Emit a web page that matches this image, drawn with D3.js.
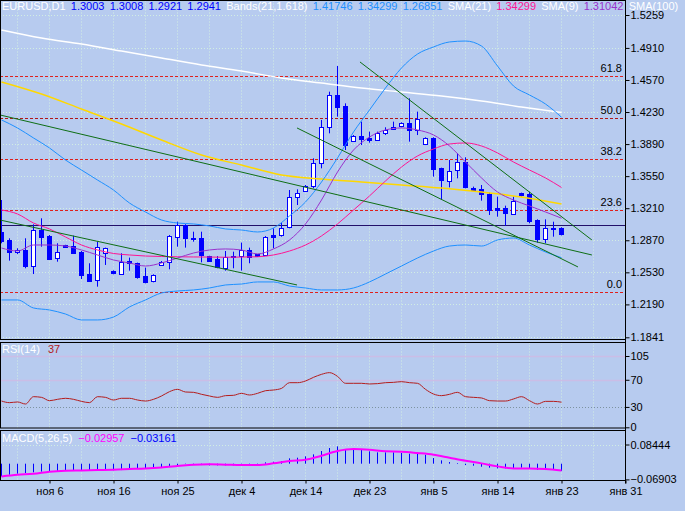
<!DOCTYPE html>
<html>
<head>
<meta charset="utf-8">
<script src="https://cdn.jsdelivr.net/npm/d3@7"></script>
<style>
  body { margin: 0; background: #b7cbef; }
  svg { display: block; font-family: "Liberation Sans", Arial, sans-serif; font-size: 11px; }
</style>
</head>
<body>
<div id="container"></div>
<script>
// time axis
var tickLabels = ["ноя 6", "ноя 16", "ноя 25", "дек 4", "дек 14", "дек 23", "янв 5", "янв 14", "янв 23", "янв 31"];
var tickBars = [6, 14, 22, 30, 38, 46, 54, 62, 70, 78];

// price / indicator scales
var priceTicks = [1.5259, 1.4910, 1.4570, 1.4230, 1.3890, 1.3550, 1.3210, 1.2870, 1.2530, 1.2190, 1.1841];
var rsiTicks = [105, 70, 30, 0];
var macdTicks = [0.08444, -0.06903];

// EURUSD D1 candles
var open = [1.2961, 1.2873, 1.2742, 1.2767, 1.2601, 1.2979, 1.2915, 1.2679, 1.2816, 1.2813,
  1.2749, 1.2512, 1.2449, 1.2732, 1.2544, 1.2512, 1.2650, 1.2626, 1.2491, 1.2438,
  1.2604, 1.2640, 1.2908, 1.3032, 1.2898, 1.2898, 1.2703, 1.2668, 1.2583, 1.2696,
  1.2703, 1.2767, 1.2721, 1.2714, 1.2926, 1.2926, 1.3004, 1.3325, 1.3396, 1.3439,
  1.3686, 1.4068, 1.4411, 1.4294, 1.3923, 1.3976, 1.3958, 1.3933, 1.4004, 1.4050,
  1.4075, 1.4110, 1.4040, 1.3891, 1.3958, 1.3633, 1.3502, 1.3608, 1.3697, 1.3428,
  1.3410, 1.3361, 1.3216, 1.3209, 1.3156, 1.3368, 1.3361, 1.3085, 1.2880, 1.2997, 1.3003];
var high = [1.3297, 1.2891, 1.2785, 1.2891, 1.3039, 1.3103, 1.2926, 1.2838, 1.2822, 1.2919,
  1.2756, 1.2626, 1.2855, 1.2792, 1.2551, 1.2732, 1.2686, 1.2633, 1.2580, 1.2509,
  1.2650, 1.2926, 1.3067, 1.3040, 1.2961, 1.2961, 1.2706, 1.2703, 1.2756, 1.2749,
  1.2845, 1.2792, 1.2724, 1.2915, 1.2997, 1.3057, 1.3403, 1.3410, 1.3456, 1.3739,
  1.4146, 1.4446, 1.4718, 1.4322, 1.3986, 1.4128, 1.4022, 1.4022, 1.4068, 1.4128,
  1.4121, 1.4375, 1.4234, 1.3962, 1.3962, 1.3640, 1.3721, 1.3792, 1.3750, 1.3439,
  1.3456, 1.3375, 1.3333, 1.3237, 1.3333, 1.3375, 1.3385, 1.3092, 1.3092, 1.3067, 1.3008];
var low = [1.2838, 1.2654, 1.2724, 1.2573, 1.2512, 1.2802, 1.2661, 1.2643, 1.2790, 1.2732,
  1.2459, 1.2438, 1.2378, 1.2608, 1.2509, 1.2502, 1.2548, 1.2463, 1.2413, 1.2424,
  1.2597, 1.2562, 1.2802, 1.2792, 1.2855, 1.2636, 1.2650, 1.2573, 1.2548, 1.2573,
  1.2548, 1.2626, 1.2696, 1.2707, 1.2785, 1.2908, 1.2997, 1.3244, 1.3385, 1.3421,
  1.3633, 1.4004, 1.4181, 1.3827, 1.3916, 1.3880, 1.3905, 1.3923, 1.3986, 1.4040,
  1.4068, 1.3916, 1.3986, 1.3880, 1.3545, 1.3304, 1.3431, 1.3527, 1.3421, 1.3403,
  1.3290, 1.3138, 1.3120, 1.3025, 1.3138, 1.3333, 1.3050, 1.2845, 1.2838, 1.2908, 1.2921];
var close = [1.2866, 1.2749, 1.2767, 1.2601, 1.2979, 1.2908, 1.2671, 1.2742, 1.2795, 1.2742,
  1.2502, 1.2442, 1.2795, 1.2785, 1.2519, 1.2643, 1.2626, 1.2477, 1.2431, 1.2502,
  1.2640, 1.2915, 1.3032, 1.2891, 1.2884, 1.2714, 1.2654, 1.2583, 1.2696, 1.2703,
  1.2767, 1.2689, 1.2703, 1.2908, 1.2908, 1.3004, 1.3325, 1.3368, 1.3446, 1.3686,
  1.4068, 1.4411, 1.4287, 1.3880, 1.3976, 1.3940, 1.3933, 1.4004, 1.4040, 1.4075,
  1.4110, 1.4032, 1.4153, 1.3951, 1.3633, 1.3502, 1.3608, 1.3697, 1.3428, 1.3410,
  1.3361, 1.3191, 1.3191, 1.3156, 1.3290, 1.3343, 1.3078, 1.2880, 1.2997, 1.2990, 1.2941];

// indicator lines read every second bar
var evenBars = [0, 2, 4, 6, 8, 10, 12, 14, 16, 18, 20, 22, 24, 26, 28, 30, 32, 34,
  36, 38, 40, 42, 44, 46, 48, 50, 52, 54, 56, 58, 60, 62, 64, 66, 68, 70];
var bbUpper = [1.4146, 1.4061, 1.3955, 1.3849, 1.3721, 1.3615, 1.3509, 1.3403, 1.3265, 1.3170,
  1.3085, 1.3053, 1.3043, 1.3022, 1.2990, 1.2979, 1.2958, 1.3000, 1.3128, 1.3276,
  1.3488, 1.3743, 1.4018, 1.4252, 1.4485, 1.4697, 1.4845, 1.4920, 1.4973, 1.4983,
  1.4930, 1.4718, 1.4506, 1.4411, 1.4315, 1.41746];
var bbMiddle = [1.3191, 1.3149, 1.3053, 1.2990, 1.2905, 1.2820, 1.2767, 1.2730, 1.2714, 1.2703,
  1.2698, 1.2695, 1.2693, 1.2692, 1.2690, 1.2692, 1.2695, 1.2714, 1.2756, 1.2820,
  1.2916, 1.3043, 1.3191, 1.3340, 1.3499, 1.3647, 1.3764, 1.3838, 1.3891, 1.3902,
  1.3870, 1.3796, 1.3700, 1.3615, 1.3531, 1.34299];
var bbLower = [1.2237, 1.2237, 1.2152, 1.2131, 1.2088, 1.2025, 1.2025, 1.2056, 1.2163, 1.2237,
  1.2311, 1.2332, 1.2343, 1.2364, 1.2396, 1.2406, 1.2428, 1.2428, 1.2385, 1.2364,
  1.2343, 1.2343, 1.2364, 1.2428, 1.2512, 1.2597, 1.2682, 1.2756, 1.2809, 1.2820,
  1.2809, 1.2873, 1.2894, 1.2820, 1.2746, 1.26851];
var sma9 = [1.2788, 1.2756, 1.2820, 1.2820, 1.2809, 1.2767, 1.2714, 1.2661, 1.2629, 1.2597,
  1.2629, 1.2682, 1.2735, 1.2767, 1.2778, 1.2767, 1.2725, 1.2778, 1.2873, 1.3043,
  1.3297, 1.3594, 1.3827, 1.3965, 1.4040, 1.4061, 1.4040, 1.3987, 1.3870, 1.3700,
  1.3531, 1.3382, 1.3297, 1.3234, 1.3170, 1.31042];
var macdSignal = [-0.0558, -0.0485, -0.0441, -0.0352, -0.0308, -0.0294, -0.0279, -0.0264, -0.0235, -0.0206,
  -0.0162, -0.0103, -0.0044, -0.0029, -0.0044, -0.0059, -0.0059, 0.0015, 0.0117, 0.0176,
  0.0352, 0.0558, 0.0646, 0.0617, 0.0543, 0.0529, 0.0470, 0.0396, 0.0264, 0.0132,
  0.0015, -0.0117, -0.0206, -0.0206, -0.0235, -0.02957];

// slow lines read every fifth bar
var fifthBars = [0, 5, 10, 15, 20, 25, 30, 35, 40, 45, 50, 55, 60, 65, 70];
var sma100 = [1.5100, 1.5015, 1.4951, 1.4877, 1.4803, 1.4729, 1.4665, 1.4591, 1.4538, 1.4485,
  1.4442, 1.4400, 1.4347, 1.4283, 1.4225];
var yellowMa = [1.4549, 1.4421, 1.4262, 1.4103, 1.3933, 1.3774, 1.3668, 1.3562, 1.3520, 1.3488,
  1.3456, 1.3424, 1.3382, 1.3329, 1.3255];

// oscillators, one value per bar
var rsi = [38.7, 36.3, 37.3, 34.3, 45.1, 44.1, 39.2, 41.2, 42.7, 41.2,
  38.2, 36.3, 45.1, 44.1, 40.2, 42.7, 42.7, 40.2, 38.7, 41.2,
  46.1, 52.5, 55.9, 52.0, 51.5, 48.6, 46.1, 44.1, 46.6, 47.1,
  50.0, 47.6, 50.0, 53.9, 54.9, 57.3, 65.7, 65.7, 68.2, 73.6,
  78.0, 80.5, 75.0, 64.8, 64.8, 64.8, 63.8, 64.3, 65.7, 66.2,
  67.2, 65.7, 64.8, 55.9, 49.0, 46.6, 48.6, 51.5, 45.1, 44.1,
  43.2, 39.2, 38.7, 38.7, 41.7, 45.1, 39.2, 34.3, 38.2, 38.2, 37.0];
var macdHist = [-0.0560, -0.0485, -0.0440, -0.0410, -0.0380, -0.0350, -0.0350, -0.0340, -0.0310, -0.0310,
  -0.0320, -0.0320, -0.0294, -0.0280, -0.0290, -0.0280, -0.0235, -0.0220, -0.0220, -0.0210,
  -0.0190, -0.0130, -0.0059, -0.0015, -0.0044, -0.0059, -0.0073, -0.0073, -0.0073, -0.0073,
  -0.0059, -0.0073, -0.0059, 0.0059, 0.0088, 0.0117, 0.0235, 0.0264, 0.0323, 0.0411,
  0.0558, 0.0690, 0.0763, 0.0617, 0.0646, 0.0617, 0.0543, 0.0499, 0.0499, 0.0499,
  0.0470, 0.0440, 0.0426, 0.0396, 0.0250, 0.0147, 0.0073, 0.0029, -0.0059, -0.0088,
  -0.0132, -0.0176, -0.0206, -0.0206, -0.0191, -0.0176, -0.0206, -0.0264, -0.0279, -0.0264, -0.03161];

// drawn objects: trend lines [bar1, price1, bar2, price2], fibo, horizontal line
var trendLines = [
  [-0.2, 1.4199, 73.8, 1.2714],
  [-0.2, 1.3085, 36.94, 1.2396],
  [36.94, 1.4061, 72.06, 1.2587],
  [44.81, 1.4761, 73.8, 1.2873]
];
var fibLevels = [0, 23.6, 38.2, 50, 61.8];
var fibLow = 1.2318, fibHigh = 1.6025;
var hLinePrice = 1.3029;

var width = 685, height = 511, plotRight = 625.5;
var main = {top: 0.5, bottom: 339.5}, rsiP = {top: 342.5, bottom: 428}, macdP = {top: 430.5, bottom: 480.5};

var svg = d3.select("#container")
  .append("svg")
    .attr("width", width)
    .attr("height", height);

svg.append("rect").attr("width", width).attr("height", height).attr("fill", "#b7cbef");

var x = d3.scaleLinear().domain([0, 78]).range([1.5, 625.5]);
var y = d3.scaleLinear().domain([1.1841, 1.5259]).range([337.3, 15]);
var yR = d3.scaleLinear().domain([0, 105]).range([427.3, 356]);
var yM = d3.scaleLinear().domain([-0.06903, 0.08444]).range([479.4, 444.5]);

var defs = svg.append("defs");
function clipFor(id, p) {
  defs.append("clipPath").attr("id", id)
    .append("rect").attr("x", 0.5).attr("y", p.top).attr("width", plotRight - 0.5).attr("height", p.bottom - p.top);
  return svg.append("g").attr("clip-path", "url(#" + id + ")");
}
var gMain = clipFor("cMain", main), gRsi = clipFor("cRsi", rsiP), gMacd = clipFor("cMacd", macdP);

// vertical grid every 4 bars
var gridBars = d3.range(2, 79, 4);
[[gMain, main], [gRsi, rsiP], [gMacd, macdP]].forEach(function (pp) {
  pp[0].selectAll(".vg").data(gridBars).enter().append("line")
    .attr("x1", function (d) { return x(d); }).attr("x2", function (d) { return x(d); })
    .attr("y1", pp[1].top).attr("y2", pp[1].bottom)
    .attr("stroke", "#d2eee2").attr("stroke-dasharray", "1,2");
});
gMain.selectAll(".hg").data(priceTicks).enter().append("line")
  .attr("x1", 0).attr("x2", plotRight)
  .attr("y1", function (d) { return Math.round(y(d)) + 0.5; }).attr("y2", function (d) { return Math.round(y(d)) + 0.5; })
  .attr("stroke", "#d2eee2").attr("stroke-dasharray", "1,2");

// fibonacci levels
var fibPrice = function (l) { return fibLow + (fibHigh - fibLow) * l / 100; };
gMain.selectAll(".fib").data(fibLevels).enter().append("line")
  .attr("x1", 0).attr("x2", plotRight)
  .attr("y1", function (d) { return Math.round(y(fibPrice(d))) + 0.5; })
  .attr("y2", function (d) { return Math.round(y(fibPrice(d))) + 0.5; })
  .attr("stroke", function (d) { return d === 50 ? "#b01818" : "#e0201c"; })
  .attr("stroke-dasharray", "3,2");
gMain.selectAll(".fibt").data(fibLevels).enter().append("text")
  .attr("x", 622).attr("y", function (d) { return y(fibPrice(d)) - 4; })
  .attr("text-anchor", "end").attr("fill", "#000")
  .text(function (d) { return d.toFixed(1); });

// horizontal line
gMain.append("line").attr("x1", 0).attr("x2", plotRight)
  .attr("y1", Math.round(y(hLinePrice)) + 0.5).attr("y2", Math.round(y(hLinePrice)) + 0.5)
  .attr("stroke", "#22106a");

// candles
var bars = d3.range(open.length);
gMain.selectAll(".wick").data(bars).enter().append("line")
  .attr("x1", function (i) { return x(i); }).attr("x2", function (i) { return x(i); })
  .attr("y1", function (i) { return y(high[i]); }).attr("y2", function (i) { return y(low[i]); })
  .attr("stroke", "#0000ff");
gMain.selectAll(".body").data(bars).enter().append("rect")
  .attr("x", function (i) { return x(i) - 2; })
  .attr("y", function (i) { return Math.round(y(Math.max(open[i], close[i]))) + 0.5; })
  .attr("width", 4)
  .attr("height", function (i) { return Math.max(1, Math.round(Math.abs(y(open[i]) - y(close[i])))); })
  .attr("fill", function (i) { return close[i] >= open[i] ? "#ffffff" : "#0000ff"; })
  .attr("stroke", "#0000ff");

// indicator lines
function drawLine(g, idx, vals, ys, color, w) {
  var line = d3.line()
    .x(function (d, i) { return x(idx[i]); })
    .y(function (d) { return ys(d); })
    .curve(d3.curveMonotoneX);
  g.append("path").datum(vals).attr("d", line)
    .attr("fill", "none").attr("stroke", color).attr("stroke-width", w);
}
drawLine(gMain, fifthBars, sma100, y, "#ffffff", 1.5);
drawLine(gMain, fifthBars, yellowMa, y, "#ffd800", 1.5);
drawLine(gMain, evenBars, bbUpper, y, "#1e90ff", 1);
drawLine(gMain, evenBars, bbLower, y, "#1e90ff", 1);
drawLine(gMain, evenBars, bbMiddle, y, "#ff1493", 1);
drawLine(gMain, evenBars, sma9, y, "#9932cc", 1);

gMain.selectAll(".trend").data(trendLines).enter().append("line")
  .attr("x1", function (d) { return x(d[0]); }).attr("y1", function (d) { return y(d[1]); })
  .attr("x2", function (d) { return x(d[2]); }).attr("y2", function (d) { return y(d[3]); })
  .attr("stroke", "#0e6e14");

// RSI
[105, 70].forEach(function (v) {
  gRsi.append("line").attr("x1", 0).attr("x2", plotRight)
    .attr("y1", Math.round(yR(v)) + 0.5).attr("y2", Math.round(yR(v)) + 0.5)
    .attr("stroke", "#cbbde6").attr("stroke-width", 1.5);
});
gRsi.append("line").attr("x1", 0).attr("x2", plotRight)
  .attr("y1", Math.round(yR(30)) + 0.5).attr("y2", Math.round(yR(30)) + 0.5)
  .attr("stroke", "#7d93a0").attr("stroke-dasharray", "1,2");
drawLine(gRsi, bars, rsi, yR, "#b41c1c", 1);

// MACD
gMacd.append("line").attr("x1", 0).attr("x2", plotRight)
  .attr("y1", Math.round(yM(macdTicks[0])) + 0.5).attr("y2", Math.round(yM(macdTicks[0])) + 0.5)
  .attr("stroke", "#d2eee2").attr("stroke-dasharray", "1,2");
gMacd.selectAll(".hist").data(bars).enter().append("line")
  .attr("x1", function (i) { return x(i); }).attr("x2", function (i) { return x(i); })
  .attr("y1", yM(0)).attr("y2", function (i) { return yM(macdHist[i]); })
  .attr("stroke", "#0000ff");
drawLine(gMacd, evenBars, macdSignal, yM, "#ff00ff", 2);

// panel borders
[main, rsiP, macdP].forEach(function (p) {
  svg.append("rect").attr("x", 0.5).attr("y", p.top).attr("width", plotRight - 0.5).attr("height", p.bottom - p.top)
    .attr("fill", "none").attr("stroke", "#000");
});

// axes
function styleAxis(g) {
  g.select(".domain").remove();
  g.selectAll("line").attr("stroke", "#000");
  g.selectAll("text").attr("fill", "#000").attr("font-size", 11).attr("font-family", "Liberation Sans, Arial, sans-serif");
}
svg.append("g").attr("transform", "translate(" + plotRight + ",0)")
  .call(d3.axisRight(y).tickValues(priceTicks).tickFormat(d3.format(".4f")).tickSize(4).tickPadding(1))
  .call(styleAxis);
svg.append("g").attr("transform", "translate(" + plotRight + ",0)")
  .call(d3.axisRight(yR).tickValues(rsiTicks).tickSize(4).tickPadding(1))
  .call(styleAxis);
svg.append("g").attr("transform", "translate(" + plotRight + ",0)")
  .call(d3.axisRight(yM).tickValues(macdTicks).tickFormat(d3.format(".5f")).tickSize(4).tickPadding(1))
  .call(styleAxis);
svg.append("g").attr("transform", "translate(0," + macdP.bottom + ")")
  .call(d3.axisBottom(x).tickValues(tickBars).tickFormat(function (d, i) { return tickLabels[i]; }).tickSize(3).tickPadding(4))
  .call(styleAxis);
svg.append("line").attr("x1", plotRight).attr("x2", plotRight).attr("y1", 0).attr("y2", macdP.bottom + 3).attr("stroke", "#000");

// header labels
function header(items, x0, yb, gap) {
  var xx = x0;
  items.forEach(function (it) {
    var t = svg.append("text").attr("x", xx).attr("y", yb).attr("fill", it[1]).text(it[0]);
    xx += t.node().getComputedTextLength() + gap;
  });
}
var last = open.length - 1, f4 = d3.format(".4f"), f5 = d3.format(".5f");
header([
  ["EURUSD,D1", "#ffffff"],
  [f4(open[last]), "#0000ff"], [f4(high[last]), "#0000ff"], [f4(low[last]), "#0000ff"], [f4(close[last]), "#0000ff"],
  ["Bands(21,1.618)", "#ffffff"],
  [f5(bbUpper[bbUpper.length - 1]), "#1e90ff"], [f5(bbMiddle[bbMiddle.length - 1]), "#1e90ff"], [f5(bbLower[bbLower.length - 1]), "#1e90ff"],
  ["SMA(21)", "#ffffff"], [f5(bbMiddle[bbMiddle.length - 1]), "#ff1493"],
  ["SMA(9)", "#ffffff"], [f5(sma9[sma9.length - 1]), "#9932cc"],
  ["SMA(100)", "#ffffff"]
], 2, 10, 5.2);
header([["RSI(14)", "#ffffff"], [d3.format(".0f")(rsi[last]), "#b41c1c"]], 2, 353, 8);
header([["MACD(5,26,5)", "#ffffff"], [f5(macdSignal[macdSignal.length - 1]), "#ff00ff"], [f5(macdHist[last]), "#0000ff"]], 2, 441.5, 6);
</script>
</body>
</html>
